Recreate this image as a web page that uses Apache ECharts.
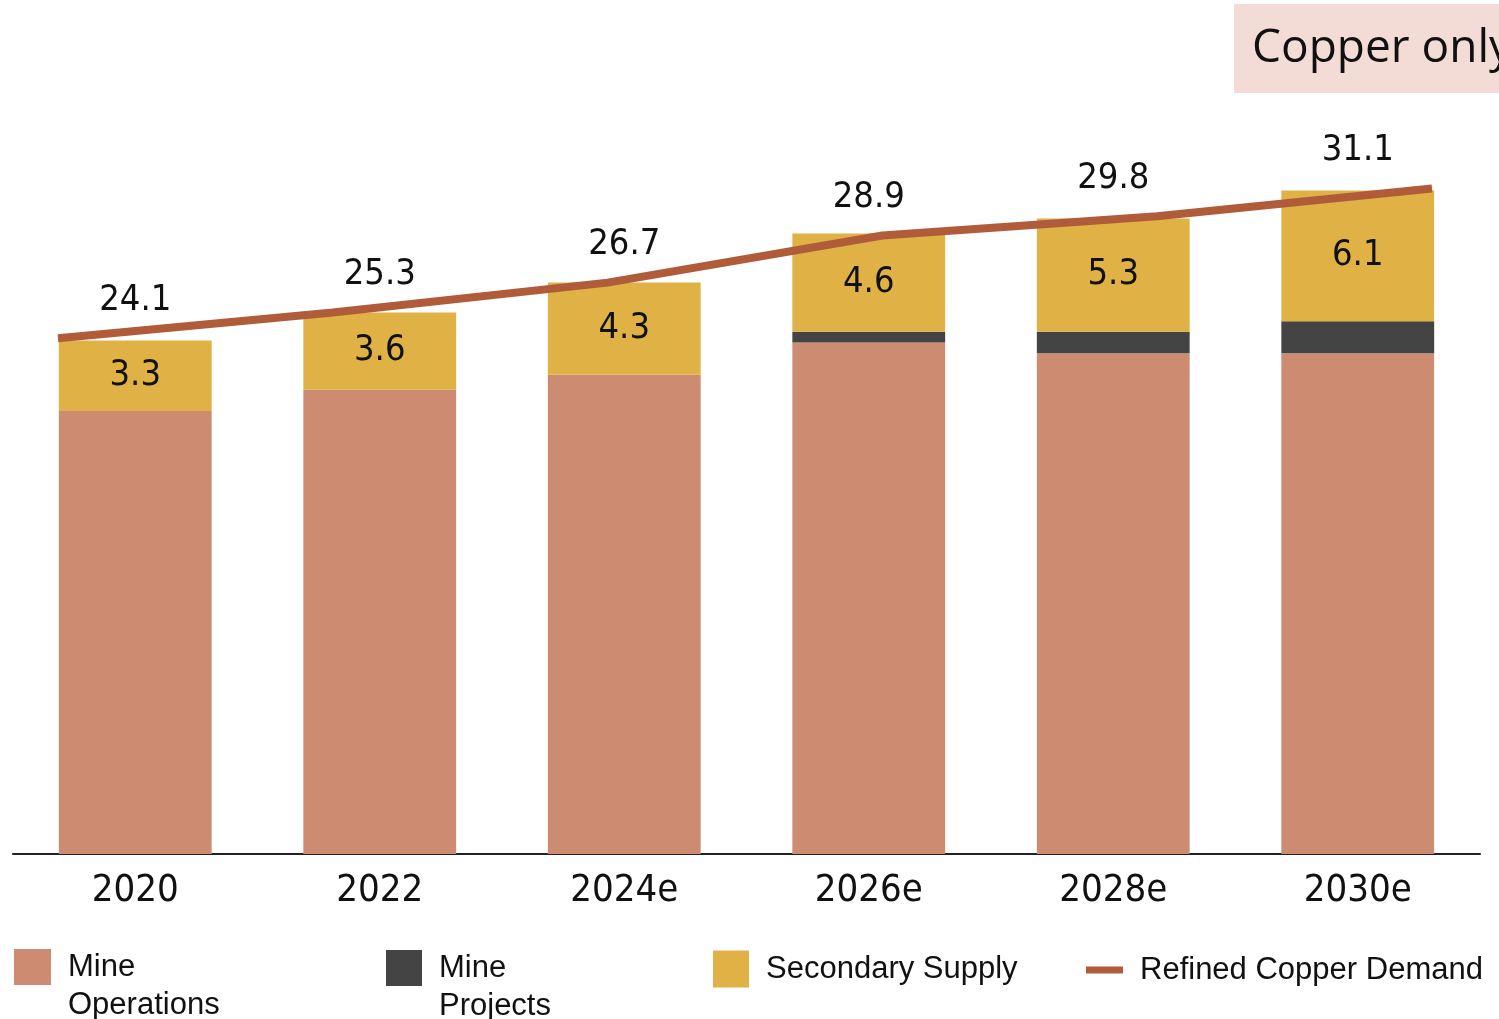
<!DOCTYPE html>
<html>
<head>
<meta charset="utf-8">
<script src="https://cdn.jsdelivr.net/npm/echarts@6/dist/echarts.min.js"></script>
<style>
html,body{margin:0;padding:0;background:#fff;}
#chart{width:1499px;height:1019px;}
</style>
</head>
<body>
<div id="chart"></div>
<script>
const categories = ['2020', '2022', '2024e', '2026e', '2028e', '2030e'];
const mineOperations = [20.7, 21.7, 22.4, 23.9, 23.4, 23.4];
const mineProjects = [0, 0, 0, 0.5, 1.0, 1.5];
const secondarySupply = [3.3, 3.6, 4.3, 4.6, 5.3, 6.1];
const refinedDemand = [24.1, 25.3, 26.7, 28.9, 29.8, 31.1];
const seriesNames = ['Mine Operations', 'Mine Projects', 'Secondary Supply', 'Refined Copper Demand'];

const NUM_FONT = '"Liberation Sans Narrow", "DejaVu Sans Condensed", "Liberation Sans", sans-serif';
const TXT_FONT = '"Liberation Sans", Arial, sans-serif';
const colors = { ops: '#CD8B71', proj: '#444444', sec: '#E0B245', line: '#B05C3A' };

const chart = echarts.init(document.getElementById('chart'));

function legendFor(name, left, top, w, h, text) {
  return {
    data: [name], left: left, top: top, padding: 0, orient: 'horizontal',
    icon: 'rect', itemWidth: w, itemHeight: h, selectedMode: false,
    formatter: function () { return text; },
    textStyle: { fontFamily: TXT_FONT, fontSize: 31, color: '#111', lineHeight: 38, padding: [0, 0, 0, 12] }
  };
}

chart.setOption({
  animation: false,
  grid: [
    { left: 13, right: 19, top: 105, bottom: 165 },
    { left: 58, right: 67, top: 105, bottom: 165 }
  ],
  xAxis: [
    { type: 'category', gridIndex: 0, data: categories,
      axisLine: { lineStyle: { color: '#222', width: 2 } },
      axisTick: { show: false },
      axisLabel: { fontFamily: NUM_FONT, fontSize: 38, color: '#111', margin: 18 } },
    { type: 'category', gridIndex: 1, data: categories, boundaryGap: false, show: false }
  ],
  yAxis: [
    { type: 'value', gridIndex: 0, min: 0, max: 35, show: false, splitLine: { show: false } },
    { type: 'value', gridIndex: 1, min: 0, max: 35, show: false, splitLine: { show: false } }
  ],
  legend: [
    legendFor(seriesNames[0], 14, 910, 37, 36, ' \nMine\nOperations'),
    legendFor(seriesNames[1], 386, 911, 36, 36, ' \nMine\nProjects'),
    legendFor(seriesNames[2], 713, 950, 36, 37, 'Secondary Supply'),
    legendFor(seriesNames[3], 1086, 951, 37, 7, 'Refined Copper Demand')
  ],
  graphic: [
    { type: 'rect', left: 1234, top: 4, shape: { width: 270, height: 89 }, style: { fill: '#F2DCD5' }, silent: true },
    { type: 'text', x: 1252, y: 49, style: { text: 'Copper only', font: '46px "Open Sans", "Liberation Sans", sans-serif', fill: '#111', verticalAlign: 'middle' }, silent: true }
  ],
  series: [
    { name: seriesNames[0], type: 'bar', stack: 'supply', xAxisIndex: 0, yAxisIndex: 0,
      barWidth: '62.5%', data: mineOperations, itemStyle: { color: colors.ops } },
    { name: seriesNames[1], type: 'bar', stack: 'supply', xAxisIndex: 0, yAxisIndex: 0,
      barWidth: '62.5%', data: mineProjects, itemStyle: { color: colors.proj } },
    { name: seriesNames[2], type: 'bar', stack: 'supply', xAxisIndex: 0, yAxisIndex: 0,
      barWidth: '62.5%', data: secondarySupply, itemStyle: { color: colors.sec },
      label: { show: true, position: 'inside', fontFamily: NUM_FONT, fontSize: 36, color: '#111',
        formatter: function (p) { return p.value.toFixed(1); } } },
    { name: seriesNames[3], type: 'line', xAxisIndex: 1, yAxisIndex: 1, data: refinedDemand,
      symbol: 'none', lineStyle: { color: colors.line, width: 8 }, itemStyle: { color: colors.line }, z: 5 },
    { name: 'demandLabels', type: 'scatter', xAxisIndex: 0, yAxisIndex: 0, data: refinedDemand,
      symbolSize: 1, itemStyle: { color: 'transparent', opacity: 1 }, silent: true, z: 6,
      label: { show: true, position: 'top', distance: 19, fontFamily: NUM_FONT, fontSize: 36, color: '#111', opacity: 1,
        formatter: function (p) { return p.value.toFixed(1); } } }
  ]
});
</script>
</body>
</html>
